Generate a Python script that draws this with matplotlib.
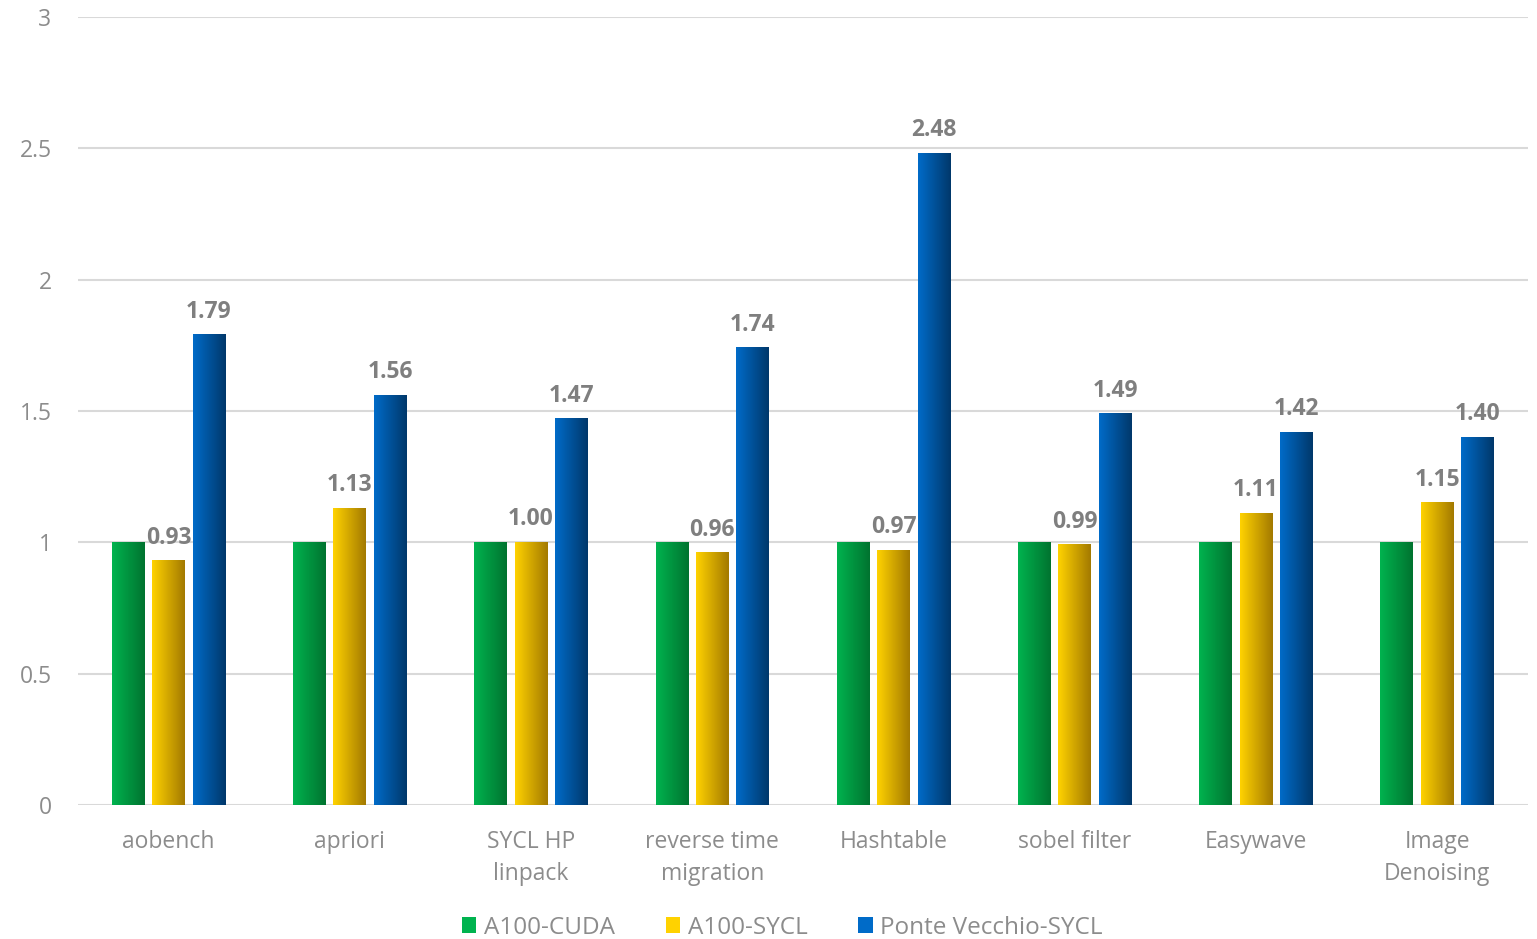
import matplotlib
matplotlib.use("Agg")
import matplotlib.pyplot as plt
import numpy as np
from matplotlib.colors import LinearSegmentedColormap
from matplotlib.patches import Patch

plt.rcParams['font.family'] = ['Open Sans', 'DejaVu Sans']

categories = ["aobench", "apriori", "SYCL HP\nlinpack", "reverse time\nmigration",
              "Hashtable", "sobel filter", "Easywave", "Image\nDenoising"]
series = ["A100-CUDA", "A100-SYCL", "Ponte Vecchio-SYCL"]
a100_cuda = [1, 1, 1, 1, 1, 1, 1, 1]
a100_sycl = [0.93, 1.13, 1.00, 0.96, 0.97, 0.99, 1.11, 1.15]
pvc_sycl = [1.79, 1.56, 1.47, 1.74, 2.48, 1.49, 1.42, 1.40]

# left / right colour of each bar's gradient
grads = [("#00B34F", "#00732F"), ("#FFD200", "#A37A00"), ("#006BC8", "#00386B")]

fig = plt.figure(figsize=(15.37, 9.39), dpi=100)
ax = fig.add_axes([0.0507, 0.1427, 0.9433, 0.8392])

x = np.arange(len(categories))
width = 0.18
step = 0.223
grad = np.linspace(0, 1, 64).reshape(1, -1)

for i, (name, vals) in enumerate(zip(series, [a100_cuda, a100_sycl, pvc_sycl])):
    cmap = LinearSegmentedColormap.from_list(name, grads[i])
    pos = x + (i - 1) * step
    bars = ax.bar(pos, vals, width, color="none", edgecolor="none", zorder=3)
    for b in bars:
        x0, y0 = b.get_x(), b.get_y()
        ax.imshow(grad, cmap=cmap, aspect="auto", zorder=3,
                  extent=[x0, x0 + b.get_width(), y0, y0 + b.get_height()])
    if i > 0:
        for p, v in zip(pos, vals):
            ax.annotate(f"{v:.2f}", (p, v), xytext=(0, 8), textcoords="offset points",
                        ha="center", va="bottom", fontsize=16.5, fontweight="bold",
                        color="#7F7F7F", zorder=5)

ax.set_xlim(-0.5, len(categories) - 0.5)
ax.set_ylim(0, 3)
ax.set_yticks([0, 0.5, 1, 1.5, 2, 2.5, 3])
ax.set_yticklabels(["0", "0.5", "1", "1.5", "2", "2.5", "3"])
ax.set_xticks(x)
ax.set_xticklabels(categories, linespacing=1.45)
ax.tick_params(axis="both", length=0, labelsize=16.5, labelcolor="#8C8C8C")
ax.tick_params(axis="x", pad=18)
ax.tick_params(axis="y", pad=19)
ax.grid(axis="y", color="#D9D9D9", linewidth=1.5, zorder=0)
for s in ax.spines.values():
    s.set_visible(False)

handles = [Patch(facecolor=grads[i][0], edgecolor="none") for i in range(3)]
leg = fig.legend(handles, series, loc="center", bbox_to_anchor=(0.509, 0.012),
                 ncol=3, frameon=False, fontsize=17.5, handlelength=0.6, handleheight=0.6,
                 handletextpad=0.3, columnspacing=2.1)
for t in leg.get_texts():
    t.set_color("#8C8C8C")

fig.savefig("out.png", dpi=100)
